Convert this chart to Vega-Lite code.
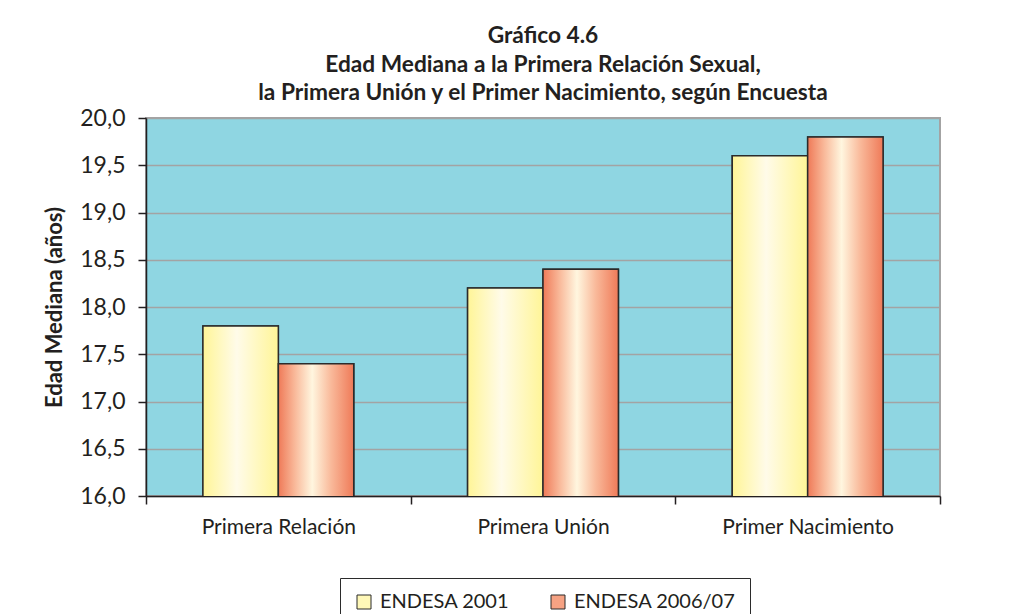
{
  "$schema": "https://vega.github.io/schema/vega-lite/v6.json",
  "autosize": {"type": "none"},
  "width": 794,
  "height": 378,
  "padding": {"left": 146, "top": 118, "right": 89, "bottom": 118},
  "background": "white",
  "title": {
    "text": ["Gráfico 4.6", "Edad Mediana a la Primera Relación Sexual,", "la Primera Unión y el Primer Nacimiento, según Encuesta"],
    "font": "Lato",
    "fontSize": 22.7,
    "fontWeight": "bold",
    "color": "#231f20",
    "lineHeight": 28.5,
    "anchor": "middle",
    "offset": 2
  },
  "data": {
    "values": [
      {"evento": "Primera Relación", "encuesta": "ENDESA 2001", "edad": 17.8},
      {"evento": "Primera Relación", "encuesta": "ENDESA 2006/07", "edad": 17.4},
      {"evento": "Primera Unión", "encuesta": "ENDESA 2001", "edad": 18.2},
      {"evento": "Primera Unión", "encuesta": "ENDESA 2006/07", "edad": 18.4},
      {"evento": "Primer Nacimiento", "encuesta": "ENDESA 2001", "edad": 19.6},
      {"evento": "Primer Nacimiento", "encuesta": "ENDESA 2006/07", "edad": 19.8}
    ]
  },
  "encoding": {
    "x": {
      "field": "evento",
      "type": "nominal",
      "sort": ["Primera Relación", "Primera Unión", "Primer Nacimiento"],
      "scale": {"paddingInner": 0, "paddingOuter": 0},
      "axis": {
        "title": null,
        "labelAngle": 0,
        "labelFont": "Lato",
        "labelFontSize": 21,
        "labelColor": "#231f20",
        "labelPadding": 12,
        "domain": true,
        "ticks": true,
        "tickBand": "extent",
        "tickSize": 8,
        "tickColor": "#231f20",
        "domainColor": "#231f20",
        "domainWidth": 1.5,
        "tickWidth": 1.5
      }
    },
    "xOffset": {
      "field": "encuesta",
      "type": "nominal",
      "sort": ["ENDESA 2001", "ENDESA 2006/07"],
      "scale": {"paddingInner": 0, "paddingOuter": 0.755}
    },
    "y": {
      "field": "edad",
      "type": "quantitative",
      "scale": {"domain": [16, 20], "zero": false, "nice": false},
      "axis": {
        "title": "Edad Mediana (años)",
        "titleFont": "Lato",
        "titleFontSize": 22,
        "titleFontWeight": "bold",
        "titleColor": "#231f20",
        "titlePadding": 13,
        "values": [16, 16.5, 17, 17.5, 18, 18.5, 19, 19.5, 20],
        "labelExpr": "replace(format(datum.value, '.1f'), '.', ',')",
        "labelFont": "Lato",
        "labelFontSize": 23,
        "labelColor": "#231f20",
        "labelPadding": 13,
        "domain": true,
        "ticks": true,
        "tickSize": 8,
        "tickColor": "#231f20",
        "tickWidth": 1.5,
        "domainColor": "#231f20",
        "domainWidth": 1.5,
        "grid": true,
        "gridColor": "#a3a3a3",
        "gridWidth": 1.5
      }
    }
  },
  "layer": [
    {
      "mark": {"type": "bar", "clip": true, "opacity": 1, "stroke": "#2b2b2b", "strokeWidth": 1.5},
      "encoding": {
        "color": {
          "field": "encuesta",
          "type": "nominal",
          "sort": ["ENDESA 2001", "ENDESA 2006/07"],
          "scale": {"domain": ["ENDESA 2001", "ENDESA 2006/07"], "range": ["#fff8b8", "#f6a283"]},
          "legend": {
            "title": null,
            "orient": "none",
            "direction": "horizontal",
            "legendX": 194,
            "legendY": 460,
            "padding": 14,
            "strokeColor": "#2b2b2b",
            "fillColor": "white",
            "symbolType": "square",
            "symbolSize": 196,
            "symbolStrokeColor": "#2b2b2b",
            "symbolStrokeWidth": 1,
            "symbolOpacity": 1,
            "labelFont": "Lato",
            "labelFontSize": 20,
            "labelLimit": 300,
            "labelColor": "#231f20",
            "labelOffset": 6,
            "columnPadding": 38
          }
        }
      }
    },
    {
      "mark": {"type": "bar", "clip": true, "opacity": 1, "stroke": "#2b2b2b", "strokeWidth": 1.5},
      "encoding": {
        "fill": {
          "condition": {
            "test": "datum.encuesta === 'ENDESA 2001'",
            "value": {"gradient": "linear", "x1": 0, "y1": 0, "x2": 1, "y2": 0, "stops": [
              {"offset": 0, "color": "#fff597"},
              {"offset": 0.45, "color": "#fffbe9"},
              {"offset": 1, "color": "#fff597"}
            ]}
          },
          "value": {"gradient": "linear", "x1": 0, "y1": 0, "x2": 1, "y2": 0, "stops": [
            {"offset": 0, "color": "#ef7a58"},
            {"offset": 0.22, "color": "#f9b99a"},
            {"offset": 0.45, "color": "#fff6df"},
            {"offset": 0.7, "color": "#f9b99a"},
            {"offset": 1, "color": "#ef7a58"}
          ]}
        }
      }
    }
  ],
  "config": {
    "view": {"fill": "#8fd6e2", "stroke": "#a3a3a3", "strokeWidth": 2}
  }
}
